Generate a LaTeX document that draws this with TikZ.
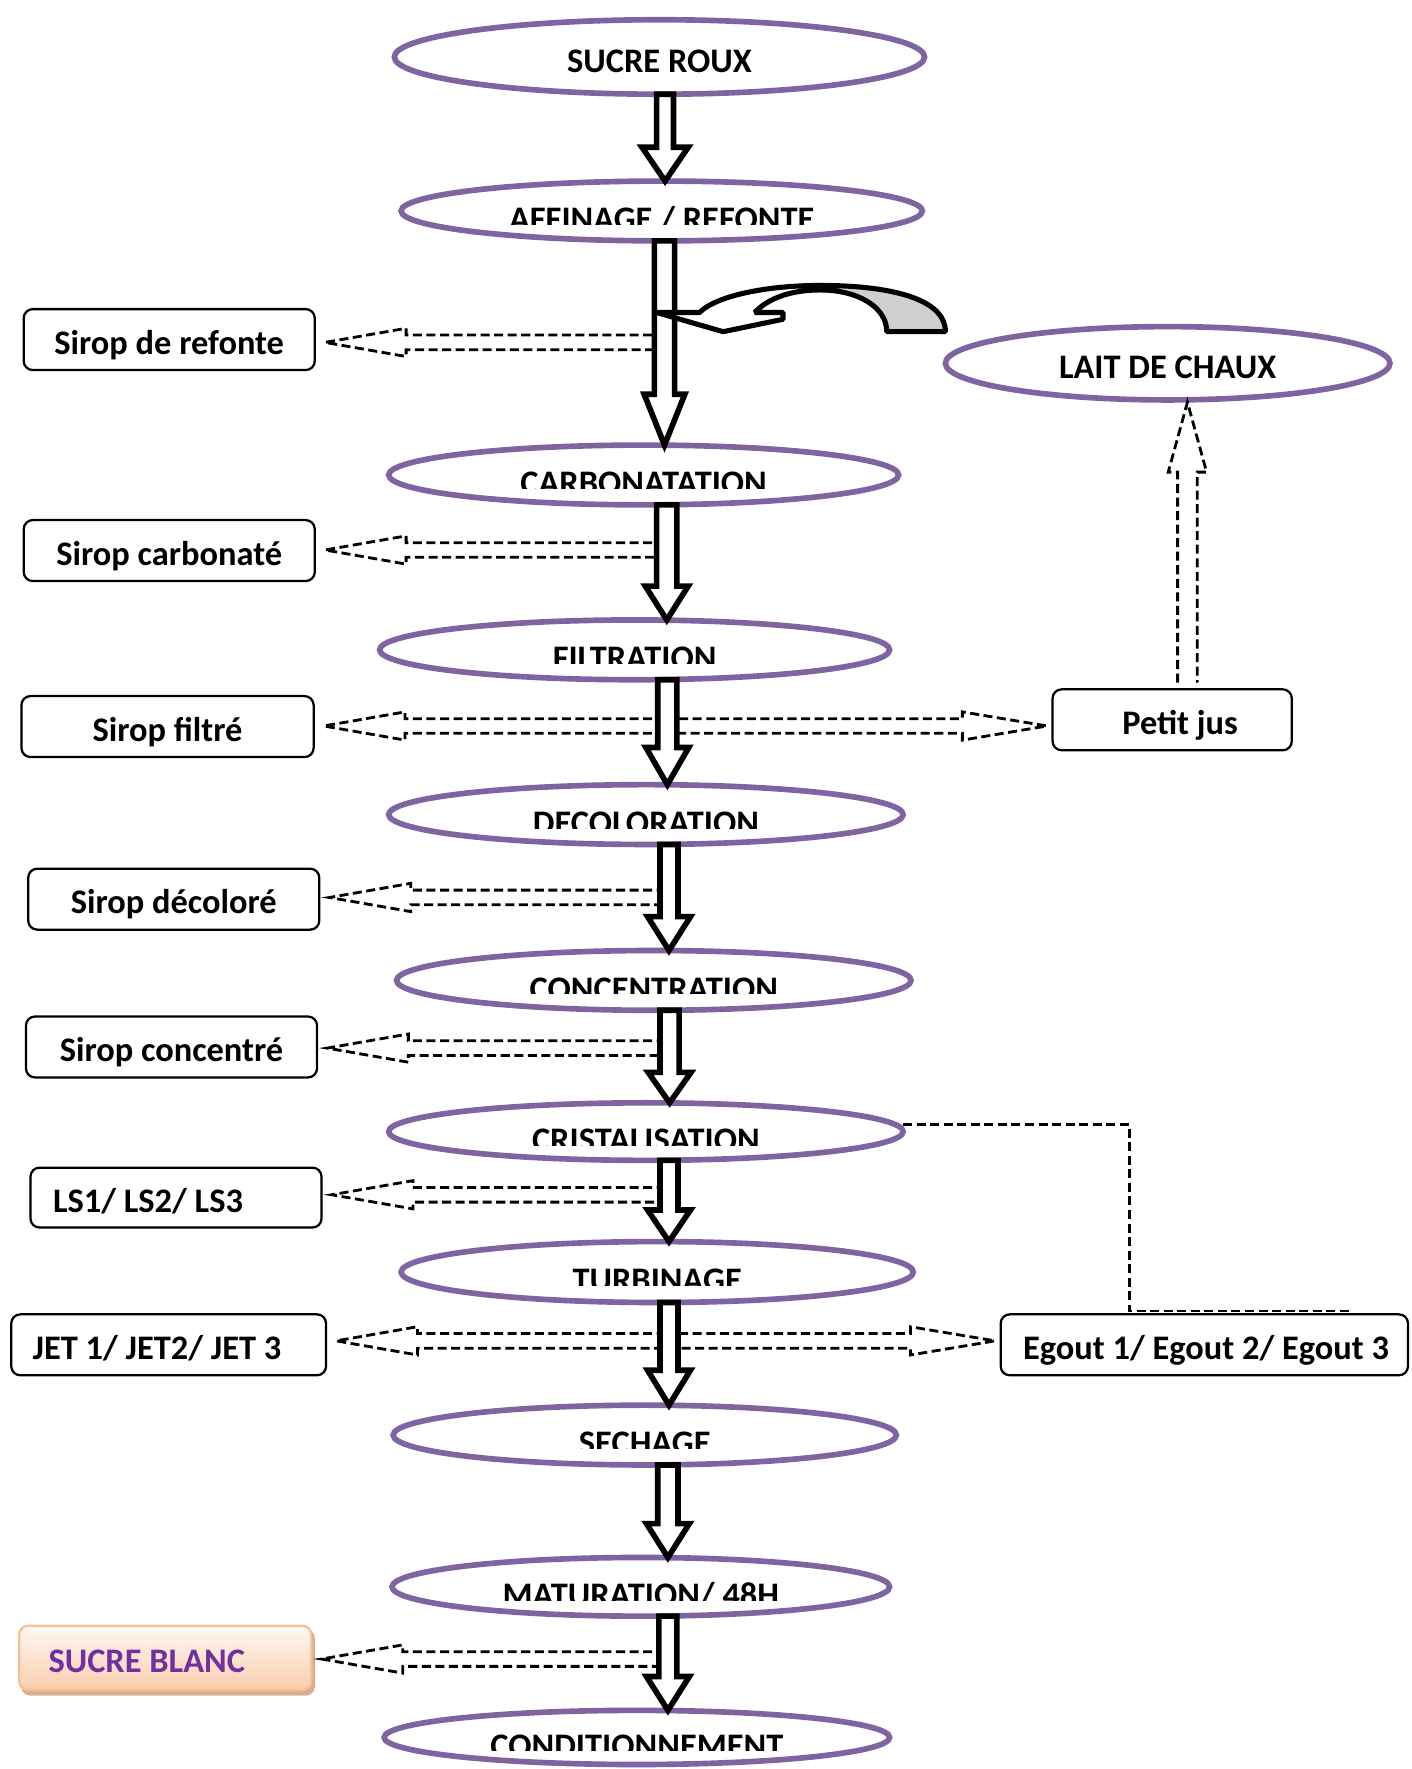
\documentclass[tikz,border=0pt]{standalone}
\usepackage{fontspec}
\setmainfont{Carlito}
\usetikzlibrary{shapes.geometric,calc}
\definecolor{purp}{HTML}{8064A2}
\definecolor{sbtext}{HTML}{7030A0}
\definecolor{sbtop}{HTML}{FFF8F3}
\definecolor{sbbot}{HTML}{F9CDAE}
\definecolor{sbborder}{HTML}{F7BE8E}
\definecolor{sbshadow}{HTML}{D9AD90}
\definecolor{backgray}{HTML}{CFCFCF}
\newcommand\bigfont{\bfseries\fontsize{30.5}{36}\selectfont}
% clipped process ellipse: name, cx, cy, w, h, text
\newcommand\procnode[6]{%
  \node[proc, minimum width=#4pt, minimum height=#5pt] (#1) at (#2,#3) {};
  \begin{scope}
    \clip (#2-300,#3-40) rectangle (#2+300,#3+12);
    \node[proctext] (#1t) at (#2,#3+17.5) {#6};
  \end{scope}}
% full process ellipse
\newcommand\procfull[6]{%
  \node[proc, minimum width=#4pt, minimum height=#5pt] (#1) at (#2,#3) {};
  \node[proctext] (#1t) at (#2,#3+13.5) {#6};}
% block arrow: from, to, x, shaft half, head half, head length
\newcommand\blk[6]{%
  \draw[blockarrow] let \p1=(#1.south), \p2=(#2.north) in
    (#3pt-#4pt,\y1) -- (#3pt-#4pt,\y2+#6pt) -- (#3pt-#5pt,\y2+#6pt) -- (#3pt,\y2)
    -- (#3pt+#5pt,\y2+#6pt) -- (#3pt+#4pt,\y2+#6pt) -- (#3pt+#4pt,\y1) -- cycle;}
% dashed hollow arrow to the left: column coordinate, box
\newcommand\dashL[2]{%
  \draw[hollowdash] let \p1=(#1), \p2=(#2.east) in
    (\x1,\y1+6.5pt) -- (\x2+80pt,\y1+6.5pt) -- (\x2+80pt,\y1+12.5pt) -- (\x2+8pt,\y1)
    -- (\x2+80pt,\y1-12.5pt) -- (\x2+80pt,\y1-6.5pt) -- (\x1,\y1-6.5pt);}
% dashed hollow arrow to the right
\newcommand\dashR[2]{%
  \draw[hollowdash] let \p1=(#1), \p2=(#2.west) in
    (\x1,\y1+6.5pt) -- (\x2-79pt,\y1+6.5pt) -- (\x2-79pt,\y1+12.5pt) -- (\x2-4pt,\y1)
    -- (\x2-79pt,\y1-12.5pt) -- (\x2-79pt,\y1-6.5pt) -- (\x1,\y1-6.5pt);}
\begin{document}
\begin{tikzpicture}[x=1pt,y=-1pt,
  proc/.style={ellipse, draw=purp, line width=5pt, fill=white, inner sep=0pt, outer sep=0pt},
  proctext/.style={anchor=base, inner sep=0pt, font=\bigfont},
  sidebox/.style={draw, rounded corners=8pt, line width=2pt, fill=white, inner sep=0pt,
    minimum height=54pt, text height=26pt, text depth=0pt, font=\bigfont},
  blockarrow/.style={draw=black, fill=white, line width=5pt, line join=miter},
  hollowdash/.style={draw=black, line width=2.5pt, dash pattern=on 8pt off 4pt},
  elbow/.style={draw=black, line width=2.5pt, dash pattern=on 8pt off 4pt}]
\useasboundingbox (0,0) rectangle (1251,1568);
\fill[white] (0,0) rectangle (1251,1568);

% process ellipses
\procfull{sr}{584.5}{50.5}{470}{66}{SUCRE ROUX}
\procnode{af}{586.5}{187}{462}{53}{AFFINAGE / REFONTE}
\procnode{ca}{570.5}{421}{452}{53}{CARBONATATION}
\procnode{fi}{562.5}{576}{452}{53}{FILTRATION}
\procnode{de}{572.5}{722}{456}{53}{DECOLORATION}
\procnode{co}{579.5}{869}{456}{53}{CONCENTRATION}
\procnode{cr}{572.5}{1003}{456}{51}{CRISTALISATION}
\procnode{tu}{582.5}{1127.5}{454}{54}{TURBINAGE}
\procnode{se}{571.5}{1272}{446}{53}{SECHAGE}
\procnode{ma}{568}{1406.5}{441}{52}{MATURATION/ 48H}
\procnode{cd}{564.5}{1540}{448}{48}{CONDITIONNEMENT}
\procfull{lc}{1035}{322}{394}{65}{LAIT DE CHAUX}

% side boxes
\node[sidebox, minimum width=258pt] (ref) at (150,301) {Sirop de refonte};
\node[sidebox, minimum width=258pt] (carb) at (150,488) {Sirop carbonaté};
\node[sidebox, minimum width=259pt] (filt) at (148.5,644) {Sirop filtré};
\node[sidebox, minimum width=258pt] (dec) at (154,797) {Sirop décoloré};
\node[sidebox, minimum width=258pt] (conc) at (152,928) {Sirop concentré};
\node[sidebox, text width=218pt, inner xsep=20pt, align=flush left, minimum height=53pt] (ls) at (156,1061.5) {LS1/ LS2/ LS3};
\node[sidebox, text width=241pt, inner xsep=19pt, align=flush left] (jet) at (149.5,1192) {JET 1/ JET2/ JET 3};
\node[sidebox, minimum width=212pt] (pj) at (1039,638) {\hspace*{14pt}Petit jus};
\node[sidebox, minimum width=361pt] (eg) at (1067.5,1192) {\hspace*{3pt}Egout 1/ Egout 2/ Egout 3};
\fill[sbshadow, rounded corners=8pt] (19,1444) rectangle (279,1503);
\node[sidebox, draw=sbborder, top color=sbtop, bottom color=sbbot, text=sbtext,
  text width=207pt, inner xsep=26pt, align=flush left, minimum height=57pt] (sb) at (146.5,1469.5) {SUCRE BLANC};

% column coordinates for the side outputs
\coordinate (jref) at (590,303.5);
\coordinate (jcarb) at (590,487.5);
\coordinate (jfilt) at (590,643.5);
\coordinate (jdec) at (590,795.5);
\coordinate (jconc) at (590,929);
\coordinate (jls) at (590,1059);
\coordinate (jjet) at (590,1188.5);
\coordinate (jsb) at (590,1470.5);
\coordinate (up0) at (1052.5,605);
\coordinate (elb) at (1197,1162);

% dashed hollow arrows
\dashL{jref}{ref}
\dashL{jcarb}{carb}
\dashL{jfilt}{filt}
\dashL{jdec}{dec}
\dashL{jconc}{conc}
\dashL{jls}{ls}
\dashL{jjet}{jet}
\dashL{jsb}{sb}
\dashR{jfilt}{pj}
\dashR{jjet}{eg}
\draw[hollowdash] let \p1=(up0), \p2=(lc.south) in
  (\x1-8.7pt,\y1) -- (\x1-8.7pt,\y2-64pt) -- (\x1-17pt,\y2-64pt) -- (\x1,\y2-2pt)
  -- (\x1+17pt,\y2-64pt) -- (\x1+8.7pt,\y2-64pt) -- (\x1+8.7pt,\y1);
\draw[elbow] ([yshift=6pt]cr.east) -- (1001,997) -- (1001,1162) -- (elb);

% block arrows
\blk{sr}{af}{589.5}{7.5}{20.5}{30}
\blk{af}{ca}{589}{9}{18}{45}
\blk{ca}{fi}{591}{9}{19}{30}
\blk{fi}{de}{591.5}{8.5}{19}{33}
\blk{de}{co}{593}{8}{19}{30}
\blk{co}{cr}{593.5}{8.5}{19}{27}
\blk{cr}{tu}{593}{8}{19}{28}
\blk{tu}{se}{593}{8}{19}{31}
\blk{se}{ma}{592}{9}{19}{30}
\blk{ma}{cd}{592}{8}{19}{30}

% curved arrow (lime feed)
\fill[white] (838,294) .. controls (838,265) and (790,253) .. (727,253)
  .. controls (680,253) and (635,262) .. (620,277) -- (582,277) -- (641,294)
  -- (694,283) -- (694,277) -- (669,277) .. controls (680,265) and (700,257) .. (727,257)
  .. controls (760,257) and (786,272) .. (786,294) -- cycle;
\fill[backgray] (838,294) .. controls (838,265) and (790,253) .. (727,253)
  -- (727,257) .. controls (760,257) and (786,272) .. (786,294) -- cycle;
\draw[line width=4.5pt, line join=bevel] (838,294) .. controls (838,265) and (790,253) .. (727,253)
  .. controls (680,253) and (635,262) .. (620,277) -- (582,277) -- (641,294)
  -- (694,283) -- (694,277) -- (669,277) .. controls (680,265) and (700,257) .. (727,257)
  .. controls (760,257) and (786,272) .. (786,294) -- cycle;
\end{tikzpicture}
\end{document}
